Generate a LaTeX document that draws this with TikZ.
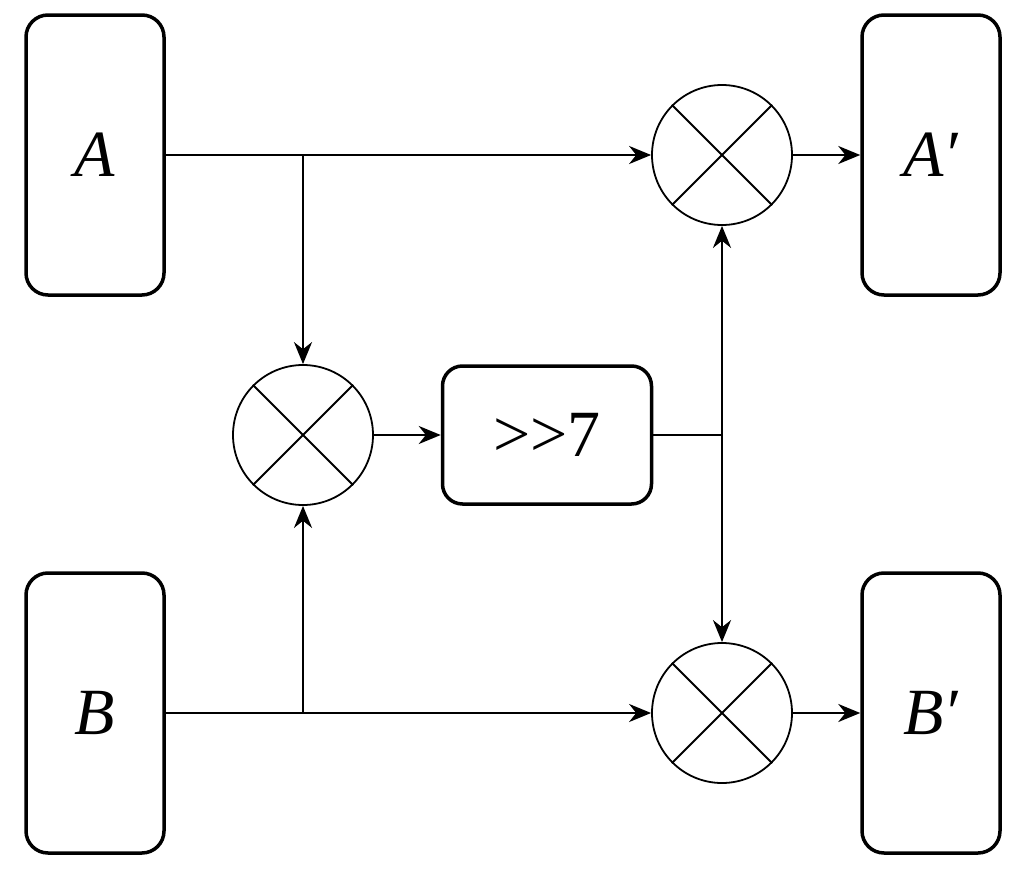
\documentclass[tikz,border=0pt]{standalone}
\usepackage{fontspec}
\setmainfont{Liberation Serif}
\usetikzlibrary{arrows.meta}
\begin{document}
\begin{tikzpicture}[x=1pt,y=-1pt,
 box/.style={draw,line width=3.5pt,rounded corners=22pt,minimum width=138pt,minimum height=280pt,inner sep=0pt,font=\fontsize{66}{70}\selectfont\itshape},
 mul/.style={draw,circle,line width=1.8pt,minimum size=140pt,inner sep=0pt},
 ar/.style={line width=2.8pt,-{Stealth[length=22pt,width=18pt]}},
 ln/.style={line width=2.8pt}]
\useasboundingbox (0,0) rectangle (1018,870);
\node[box] (A) at (95,155) {A};
\node[box] (Ap) at (931,155) {A′};
\node[box] (B) at (95,713) {B};
\node[box] (Bp) at (931,713) {B′};
\node[mul] (m1) at (722,155) {};
\node[mul] (m2) at (303,435) {};
\node[mul] (m3) at (722,713) {};
\foreach \m in {m1,m2,m3}{
 \draw[line width=1.8pt] (\m.north east) -- (\m.south west) (\m.north west) -- (\m.south east);}
\node[draw,line width=3.5pt,rounded corners=20pt,minimum width=209pt,minimum height=138pt,font=\fontsize{66}{70}\selectfont] (sh) at (547,435) {{>}{>}7};
\coordinate (ja) at (303,155);
\coordinate (jb) at (303,713);
\coordinate (js) at (722,435);
\draw[ar] (A.east |- ja) -- (m1.west);
\draw[ar] (ja) -- (m2.north);
\draw[ar] (B.east |- jb) -- (m3.west);
\draw[ar] (jb) -- (m2.south);
\draw[ar] (m2.east) -- (sh.west);
\draw[ln] (sh.east |- js) -- (js);
\draw[ar] (js) -- (m1.south);
\draw[ar] (js) -- (m3.north);
\draw[ar] (m1.east) -- (Ap.west |- m1.east);
\draw[ar] (m3.east) -- (Bp.west |- m3.east);
\end{tikzpicture}
\end{document}
